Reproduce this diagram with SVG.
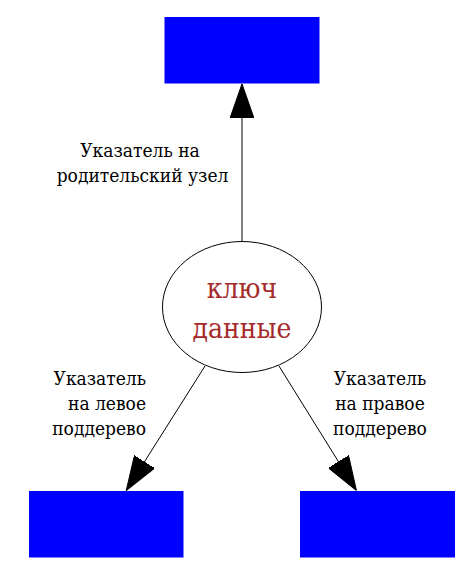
<svg xmlns="http://www.w3.org/2000/svg" width="476" height="583" viewBox="0 0 476 583">
  <style>
    .box { fill: #0000ff; stroke: none; }
    .edge { stroke: #000000; stroke-width: 1; fill: none; }
    .lbl { font-family: 'DejaVu Serif Condensed', 'DejaVu Serif', 'Liberation Serif', serif; font-size: 19px; fill: #000000; }
    .key { font-family: 'DejaVu Serif Condensed', 'DejaVu Serif', 'Liberation Serif', serif; font-size: 28px; fill: #a52a2a; text-anchor: middle; }
  </style>
  <defs>
    <marker id="arrow" markerUnits="userSpaceOnUse" markerWidth="34" markerHeight="24" viewBox="0 0 33 23" refX="33" refY="11.5" orient="auto">
      <path d="M0,0 L33,11.5 L0,23 z" fill="#000000" stroke="#000000" stroke-width="1"/>
    </marker>
  </defs>
  <rect width="476" height="583" fill="#ffffff"/>

  <g id="connectors">
    <line class="edge" x1="242" y1="241.5" x2="242" y2="84" marker-end="url(#arrow)"/>
    <line class="edge" x1="205" y1="366" x2="126.3" y2="490.5" marker-end="url(#arrow)"/>
    <line class="edge" x1="279" y1="366" x2="356.4" y2="490.5" marker-end="url(#arrow)"/>
    <text class="lbl" text-anchor="middle"><tspan x="140" y="156.5">Указатель на</tspan><tspan x="142.5" y="181.5">родительский узел</tspan></text>
    <text class="lbl" text-anchor="end"><tspan x="146" y="385">Указатель</tspan><tspan x="146" y="410">на левое</tspan><tspan x="146" y="435">поддерево</tspan></text>
    <text class="lbl" text-anchor="middle"><tspan x="380" y="385">Указатель</tspan><tspan x="380" y="410">на правое</tspan><tspan x="380" y="435">поддерево</tspan></text>
  </g>

  <g id="parent">
    <rect class="box" x="164.5" y="17" width="155" height="66.5"/>
  </g>

  <g id="node">
    <ellipse cx="242" cy="307" rx="79.5" ry="65.5" fill="#ffffff" stroke="#000000" stroke-width="1"/>
    <text class="key" x="242" y="298">ключ</text>
    <text class="key" x="242" y="338">данные</text>
  </g>

  <g id="left">
    <rect class="box" x="29" y="491" width="154.5" height="66.5"/>
  </g>

  <g id="right">
    <rect class="box" x="300" y="491" width="155" height="66.5"/>
  </g>
</svg>
